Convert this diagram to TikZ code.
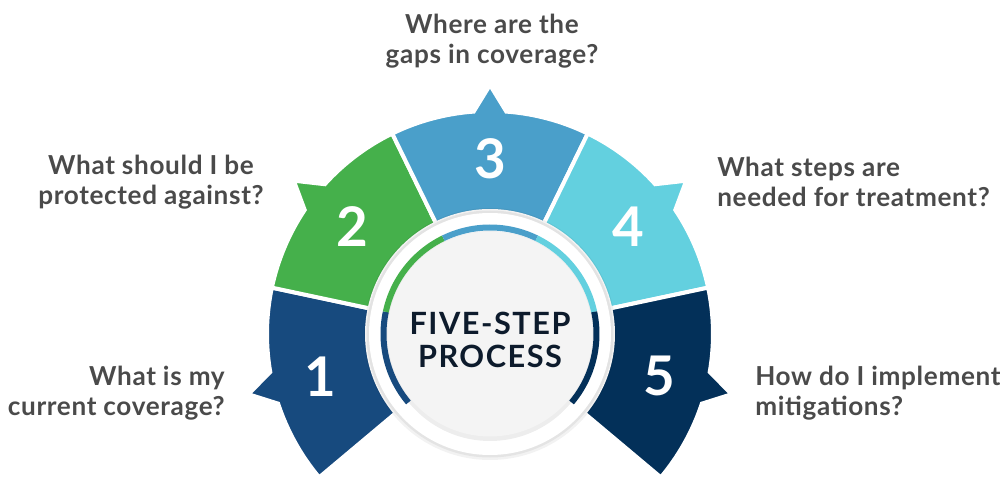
\documentclass[tikz,border=0pt]{standalone}
\usepackage{fontspec}
\setmainfont{Lato}
\newfontfamily\questionfont{Lato}[LetterSpace=2.5]
\newfontfamily\hubfont{Lato}[LetterSpace=5]
\definecolor{stepone}{HTML}{174A7E}
\definecolor{steptwo}{HTML}{45B04B}
\definecolor{stepthree}{HTML}{4A9FCA}
\definecolor{stepfour}{HTML}{63D0DF}
\definecolor{stepfive}{HTML}{033059}
\definecolor{labelgray}{HTML}{4A4A4A}
\definecolor{hubtext}{HTML}{0D1B2C}
\definecolor{hubgray}{HTML}{F4F4F4}
\begin{document}
\begin{tikzpicture}[x=0.75pt, y=0.75pt,
  question/.style={text=labelgray, font=\questionfont\fontsize{19.6}{22.5}\selectfont\bfseries, inner sep=0pt},
  stepnum/.style={text=white, font=\fontsize{41}{41}\selectfont\bfseries, inner sep=0pt},
  hubtitle/.style={text=hubtext, font=\hubfont\fontsize{23}{24.75}\selectfont\bfseries, align=center, inner sep=0pt}]
\useasboundingbox (-490,-155) rectangle (510,334);
\coordinate (O) at (0,0);
% five sectors, each with a small pointer towards its question
\foreach \a/\c/\n in {194/stepone/1, 142/steptwo/2, 90/stepthree/3, 38/stepfour/4, -14/stepfive/5} {
  \draw[fill=\c, draw=white, line width=3pt]
    (\a-26:123) -- (\a-26:223) arc[start angle=\a-26, end angle=\a-4.2, radius=223]
    -- (\a:249) -- (\a+4.2:223) arc[start angle=\a+4.2, end angle=\a+26, radius=223]
    -- (\a+26:123) arc[start angle=\a+26, end angle=\a-26, radius=123] -- cycle;
  \node[stepnum] (num\n) at (\a:175) {\n};
}
% white ring with soft halo
\fill[black, opacity=0.05] (O) circle (126);
\fill[black, opacity=0.06] (O) circle (123.5);
\fill[white] (O) circle (121);
% hub disk
\fill[black, opacity=0.07] (0,-2) circle (105);
\fill[hubgray] (O) circle (102.5);
\foreach \a/\c in {194/stepone, 142/steptwo, 90/stepthree, 38/stepfour, -14/stepfive}
  \draw[\c, line width=4.5pt] (\a-26:106.5) arc[start angle=\a-26, end angle=\a+26, radius=106.5];
\node[hubtitle] (hub) at (0,-6) {FIVE-STEP\\PROCESS};
% questions
\node[question, align=right, anchor=east] (q1) at (-265,-59) {What is my\\current coverage?};
\node[question, align=center] (q2) at (-339,152) {What should I be\\protected against?};
\node[question, align=center] (q3) at (2,293) {Where are the\\gaps in coverage?};
\node[question, align=left, anchor=west] (q4) at (227,152) {What steps are\\needed for treatment?};
\node[question, align=left, anchor=west] (q5) at (265,-59) {How do I implement\\mitigations?};
\end{tikzpicture}
\end{document}
